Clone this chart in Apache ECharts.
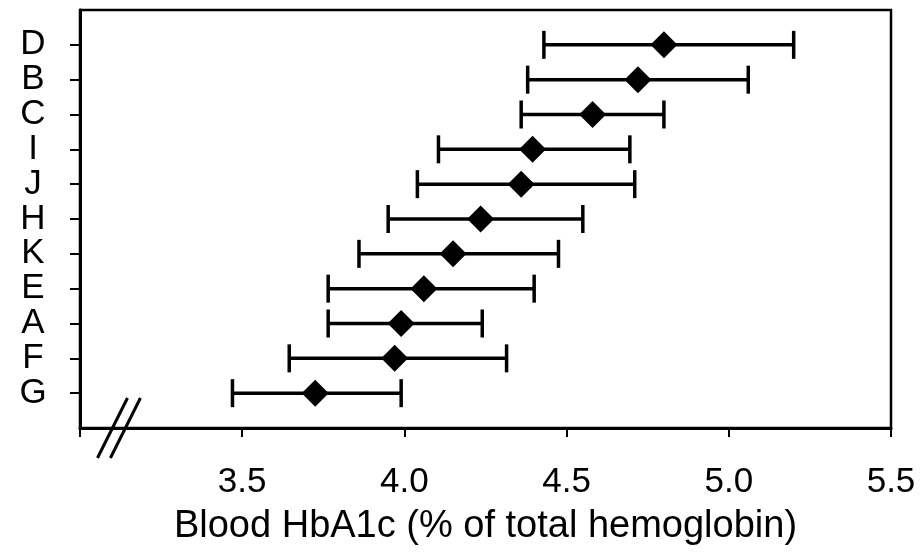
<!DOCTYPE html>
<html>
<head>
<meta charset="utf-8">
<script src="https://cdn.jsdelivr.net/npm/echarts@6/dist/echarts.min.js"></script>
<style>html,body{margin:0;padding:0;background:#fff;}#c{width:922px;height:557px;}</style>
</head>
<body>
<div id="c"></div>
<script>
// Groups from top to bottom
var categories = ['D', 'B', 'C', 'I', 'J', 'H', 'K', 'E', 'A', 'F', 'G'];
var means = [4.80, 4.72, 4.58, 4.395, 4.36, 4.235, 4.15, 4.06, 3.99, 3.97, 3.725];
var lows  = [4.43, 4.38, 4.36, 4.105, 4.04, 3.95, 3.86, 3.765, 3.765, 3.645, 3.47];
var highs = [5.20, 5.06, 4.80, 4.695, 4.71, 4.55, 4.475, 4.40, 4.24, 4.315, 3.99];
var xTickLabels = ['3.5', '4.0', '4.5', '5.0', '5.5'];
var xAxisName = 'Blood HbA1c (% of total hemoglobin)';

var n = categories.length;
// position of each group on the vertical value axis (top group highest)
function pos(i) { return n - i; }

var scatterData = means.map(function (m, i) { return [m, pos(i)]; });
var barData = lows.map(function (l, i) { return [l, highs[i], pos(i)]; });
var yPositions = categories.map(function (c, i) { return pos(i); }).sort(function (a, b) { return a - b; });

var chart = echarts.init(document.getElementById('c'));
var option = {
  animation: false,
  backgroundColor: '#fff',
  grid: { left: 80, right: 31, top: 10, bottom: 129, show: true, borderColor: '#000', borderWidth: 2.5 },
  xAxis: {
    type: 'value', min: 3.0, max: 5.5, interval: 0.5,
    splitLine: { show: false },
    axisLine: { show: true, lineStyle: { color: '#000', width: 3 } },
    axisTick: { show: true, length: 9, lineStyle: { color: '#000', width: 2 } },
    axisLabel: {
      color: '#000', fontFamily: 'Liberation Sans, Arial, sans-serif', fontSize: 35, margin: 37,
      formatter: function (v) {
        var s = v.toFixed(1);
        return xTickLabels.indexOf(s) >= 0 ? s : '';
      }
    },
    name: xAxisName, nameLocation: 'middle', nameGap: 80,
    nameTextStyle: { color: '#000', fontFamily: 'Liberation Sans, Arial, sans-serif', fontSize: 38 }
  },
  yAxis: {
    type: 'value', min: 0, max: n + 1, interval: 1,
    splitLine: { show: false },
    axisLine: { show: true, lineStyle: { color: '#000', width: 3 } },
    axisTick: { show: true, length: 10, customValues: yPositions, lineStyle: { color: '#000', width: 2 } },
    axisLabel: {
      customValues: yPositions, showMinLabel: true, showMaxLabel: true, hideOverlap: false,
      color: '#000', fontFamily: 'Liberation Sans, Arial, sans-serif', fontSize: 35,
      align: 'center', margin: 47, verticalAlign: 'middle', padding: [0, 0, 6, 0],
      formatter: function (v) {
        var idx = n - Math.round(v);
        return categories[idx] || '';
      }
    }
  },
  series: [
    {
      type: 'custom',
      data: barData,
      encode: { x: [0, 1], y: 2 },
      renderItem: function (params, api) {
        var y = api.value(2);
        var p1 = api.coord([api.value(0), y]);
        var p2 = api.coord([api.value(1), y]);
        var h = 14;
        var st = { stroke: '#000', lineWidth: 3.5 };
        return {
          type: 'group',
          children: [
            { type: 'line', shape: { x1: p1[0], y1: p1[1], x2: p2[0], y2: p2[1] }, style: st },
            { type: 'line', shape: { x1: p1[0], y1: p1[1] - h, x2: p1[0], y2: p1[1] + h }, style: st },
            { type: 'line', shape: { x1: p2[0], y1: p2[1] - h, x2: p2[0], y2: p2[1] + h }, style: st }
          ]
        };
      }
    },
    {
      type: 'scatter',
      data: scatterData,
      symbol: 'diamond',
      symbolSize: 27,
      itemStyle: { color: '#000', opacity: 1 },
      z: 5
    }
  ]
};
chart.setOption(option);

// axis break marks "//" near the left end of the x axis
var b1 = chart.convertToPixel({ gridIndex: 0 }, [3.1, 0]);
var b2 = chart.convertToPixel({ gridIndex: 0 }, [3.14, 0]);
var dx = 15, dy = 30;
chart.setOption({
  graphic: [
    { type: 'line', shape: { x1: b1[0] - dx, y1: b1[1] + dy, x2: b1[0] + dx, y2: b1[1] - dy }, style: { stroke: '#000', lineWidth: 3 }, z: 10 },
    { type: 'line', shape: { x1: b2[0] - dx, y1: b2[1] + dy, x2: b2[0] + dx, y2: b2[1] - dy }, style: { stroke: '#000', lineWidth: 3 }, z: 10 }
  ]
});
</script>
</body>
</html>
